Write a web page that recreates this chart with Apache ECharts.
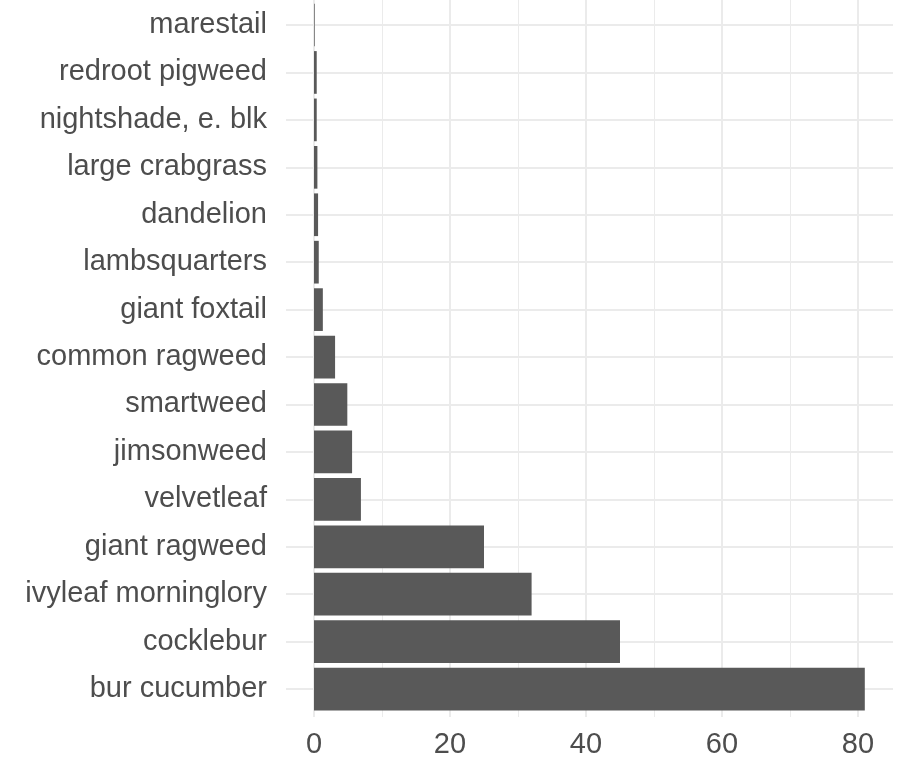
<!DOCTYPE html>
<html><head><meta charset="utf-8">
<script src="https://cdn.jsdelivr.net/npm/echarts@6/dist/echarts.min.js"></script>
<style>html,body{margin:0;padding:0;background:#fff}#c{width:899px;height:759px}</style>
</head><body><div id="c"></div>
<script>
const categories = ["marestail","redroot pigweed","nightshade, e. blk","large crabgrass","dandelion","lambsquarters","giant foxtail","common ragweed","smartweed","jimsonweed","velvetleaf","giant ragweed","ivyleaf morninglory","cocklebur","bur cucumber"];
const values = [0.1,0.4,0.4,0.5,0.6,0.7,1.3,3.1,4.9,5.6,6.9,25,32,45,81];
const xTicks = [0,20,40,60,80];

const chart = echarts.init(document.getElementById('c'), null, {renderer:'canvas'});
const font = 'Liberation Sans, Arial, Helvetica, sans-serif';
const xMin = xTicks[0], xMax = xTicks[xTicks.length-1];
chart.setOption({
  animation:false,
  backgroundColor:'#ffffff',
  grid:[
    {left:286,right:6,top:25,height:664},
    {left:314,right:41,top:1.3,height:711.5},
    {left:314,right:41,top:0,bottom:42}
  ],
  xAxis:[
    {gridIndex:0,type:'value',min:0,max:1,show:false},
    {gridIndex:1,type:'value',min:xMin,max:xMax,show:false},
    {gridIndex:2,type:'value',min:xMin,max:xMax,interval:20,
     axisLine:{show:false},axisTick:{show:false},
     axisLabel:{color:'#4d4d4d',fontSize:29,fontFamily:font,margin:13},
     splitLine:{show:true,lineStyle:{color:'#ebebeb',width:2}},
     minorTick:{show:false,splitNumber:2},
     minorSplitLine:{show:true,lineStyle:{color:'#ebebeb',width:1}}
    }
  ],
  yAxis:[
    {gridIndex:0,type:'category',data:categories,inverse:true,boundaryGap:false,
     axisLine:{show:false},axisTick:{show:false},
     axisLabel:{color:'#4d4d4d',fontSize:29,fontFamily:font,margin:19,interval:0},
     splitLine:{show:true,interval:0,lineStyle:{color:'#ebebeb',width:2}}},
    {gridIndex:1,type:'category',data:categories,inverse:true,boundaryGap:true,show:false},
    {gridIndex:2,type:'value',min:0,max:1,show:false}
  ],
  series:[{
    type:'bar',xAxisIndex:1,yAxisIndex:1,data:values,clip:false,
    barCategoryGap:'10%',itemStyle:{color:'#595959'}
  }]
});
</script></body></html>
